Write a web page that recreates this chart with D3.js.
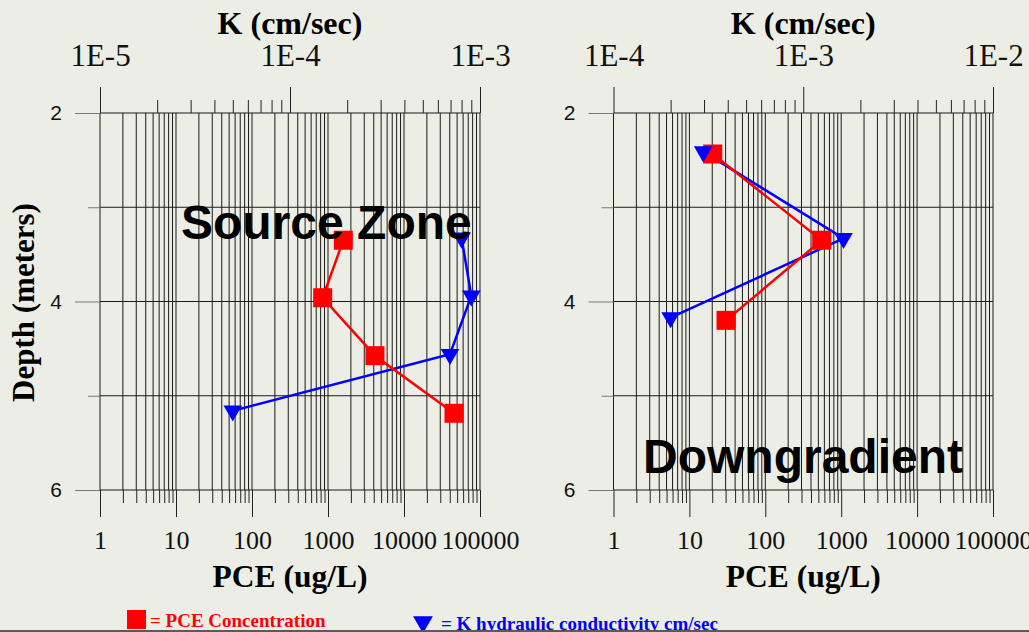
<!DOCTYPE html>
<html>
<head>
<meta charset="utf-8">
<script src="https://cdn.jsdelivr.net/npm/d3@7"></script>
<style>
  html, body { margin: 0; padding: 0; background: #eceee6; }
  svg { display: block; }
</style>
</head>
<body>
<svg id="chart"></svg>
<script>
// Source zone profile
const sourcePceDepth = [3.35, 3.96, 4.575, 5.186];
const sourcePce = [1590, 851, 4150, 45500];
const sourceKDepth = [3.326, 3.94, 4.56, 5.16];
const sourceK = [8.0e-4, 9.0e-4, 6.95e-4, 5.0e-5];

// Downgradient profile
const downPceDepth = [2.435, 3.35, 4.2];
const downPce = [20.3, 553, 30.4];
const downKDepth = [2.41, 3.33, 4.17];
const downK = [2.97e-4, 1.63e-3, 2.0e-4];

// Axis ticks and labels
const pceTicks = [1, 10, 100, 1000, 10000, 100000];
const pceTickLabels = ["1", "10", "100", "1000", "10000", "100000"];
const sourceKTicks = [1e-5, 1e-4, 1e-3];
const sourceKTickLabels = ["1E-5", "1E-4", "1E-3"];
const downKTicks = [1e-4, 1e-3, 1e-2];
const downKTickLabels = ["1E-4", "1E-3", "1E-2"];
const depthTicks = [2, 4, 6];
const depthMinorTicks = [3, 5];

const width = 1029;
const height = 632;
const plotTop = 113;
const plotBottom = 490;
const serif = "'Liberation Serif', 'Times New Roman', serif";
const sans = "'Liberation Sans', Arial, sans-serif";

function minorTicks(decades) {
  const out = [];
  for (let i = 0; i < decades.length - 1; i++) {
    for (let m = 2; m <= 9; m++) out.push(decades[i] * m);
  }
  return out;
}

function drawPanel({ x0, x1, kTicks, kLabels, pceDepth, pce, kDepth, k, showTitle, note }) {
  return (node) => {
    const pceScale = d3.scaleLog().domain([1, 100000]).range([x0, x1]);
    const kScale = d3
      .scaleLog()
      .domain([kTicks[0], kTicks[kTicks.length - 1]])
      .range([x0, x1]);
    const y = d3.scaleLinear().domain([2, 6]).range([plotTop, plotBottom]);

    const g = node.append("g").attr("class", "panel");

    // vertical grid from PCE ticks
    const allPce = pceTicks.concat(minorTicks(pceTicks));
    g.append("g")
      .selectAll("line")
      .data(allPce)
      .join("line")
      .attr("x1", (d) => pceScale(d))
      .attr("x2", (d) => pceScale(d))
      .attr("y1", plotTop)
      .attr("y2", plotBottom)
      .attr("stroke", "#1a1a1a")
      .attr("stroke-width", 1);

    // horizontal grid at each meter
    g.append("g")
      .selectAll("line")
      .data(d3.range(2, 7))
      .join("line")
      .attr("x1", x0)
      .attr("x2", x1)
      .attr("y1", (d) => y(d))
      .attr("y2", (d) => y(d))
      .attr("stroke", "#1a1a1a")
      .attr("stroke-width", 1);

    // bottom PCE axis
    const pceMinor = g
      .append("g")
      .attr("transform", `translate(0, ${plotBottom})`)
      .call(d3.axisBottom(pceScale).tickValues(minorTicks(pceTicks)).tickSize(13).tickFormat(""));
    const pceMajor = g
      .append("g")
      .attr("transform", `translate(0, ${plotBottom})`)
      .call(
        d3
          .axisBottom(pceScale)
          .tickValues(pceTicks)
          .tickSize(27)
          .tickPadding(14)
          .tickFormat((d, i) => pceTickLabels[i])
      );

    // top K axis
    const kMinor = g
      .append("g")
      .attr("transform", `translate(0, ${plotTop})`)
      .call(d3.axisTop(kScale).tickValues(minorTicks(kTicks)).tickSize(13).tickFormat(""));
    const kMajor = g
      .append("g")
      .attr("transform", `translate(0, ${plotTop})`)
      .call(
        d3
          .axisTop(kScale)
          .tickValues(kTicks)
          .tickSize(26)
          .tickPadding(21)
          .tickFormat((d, i) => kLabels[i])
      );

    // depth axis
    const dMajor = g
      .append("g")
      .attr("transform", `translate(${x0}, 0)`)
      .call(d3.axisLeft(y).tickValues(depthTicks).tickSize(25).tickPadding(13).tickFormat(d3.format("d")));
    const dMinor = g
      .append("g")
      .attr("transform", `translate(${x0}, 0)`)
      .call(d3.axisLeft(y).tickValues(depthMinorTicks).tickSize(12).tickFormat(""));

    [pceMinor, pceMajor, kMinor, kMajor, dMajor, dMinor].forEach((a) => {
      a.select(".domain").remove();
      a.selectAll(".tick line").attr("stroke", "#222");
    });
    dMajor.selectAll(".tick line").attr("stroke", "#777");
    dMinor.selectAll(".tick line").attr("stroke", "#777");

    pceMajor.selectAll("text").attr("font-family", serif).attr("font-size", 26).attr("fill", "#111");
    kMajor.selectAll("text").attr("font-family", serif).attr("font-size", 31).attr("fill", "#111");
    dMajor.selectAll("text").attr("font-family", sans).attr("font-size", 21).attr("fill", "#111");

    // axis titles
    const cx = (x0 + x1) / 2;
    g.append("text")
      .attr("x", cx)
      .attr("y", 34)
      .attr("text-anchor", "middle")
      .attr("font-family", serif)
      .attr("font-weight", "bold")
      .attr("font-size", 32)
      .text("K (cm/sec)");

    g.append("text")
      .attr("x", cx)
      .attr("y", 587)
      .attr("text-anchor", "middle")
      .attr("font-family", serif)
      .attr("font-weight", "bold")
      .attr("font-size", 31.5)
      .text("PCE (ug/L)");

    if (showTitle) {
      g.append("text")
        .attr("transform", `translate(34, ${(plotTop + plotBottom) / 2 + 1}) rotate(-90)`)
        .attr("text-anchor", "middle")
        .attr("font-family", serif)
        .attr("font-weight", "bold")
        .attr("font-size", 31)
        .text("Depth (meters)");
    }

    const pceRows = pce.map((v, i) => ({ v, d: pceDepth[i] }));
    const kRows = k.map((v, i) => ({ v, d: kDepth[i] }));

    g.append("path")
      .datum(kRows)
      .attr("fill", "none")
      .attr("stroke", "#0000ff")
      .attr("stroke-width", 2.5)
      .attr("d", d3.line().x((r) => kScale(r.v)).y((r) => y(r.d)));

    g.append("path")
      .datum(pceRows)
      .attr("fill", "none")
      .attr("stroke", "#ff0000")
      .attr("stroke-width", 2.5)
      .attr("d", d3.line().x((r) => pceScale(r.v)).y((r) => y(r.d)));

    const sq = 19;
    g.append("g")
      .selectAll("rect")
      .data(pceRows)
      .join("rect")
      .attr("x", (r) => pceScale(r.v) - sq / 2)
      .attr("y", (r) => y(r.d) - sq / 2)
      .attr("width", sq)
      .attr("height", sq)
      .attr("fill", "#ff0000");

    const tri = d3.symbol(d3.symbolTriangle, 150);
    g.append("g")
      .selectAll("path")
      .data(kRows)
      .join("path")
      .attr("d", tri)
      .attr("transform", (r) => `translate(${kScale(r.v)}, ${y(r.d)}) rotate(180)`)
      .attr("fill", "#0000ff");

    // panel annotation
    g.append("text")
      .attr("x", note.x)
      .attr("y", note.y)
      .attr("font-family", sans)
      .attr("font-weight", "bold")
      .attr("font-size", 48)
      .attr("fill", "#000")
      .text(note.text);
  };
}

function drawLegend() {
  return (node) => {
    const g = node.append("g").attr("class", "legend");

    g.append("rect")
      .attr("x", 127)
      .attr("y", 610)
      .attr("width", 19)
      .attr("height", 19)
      .attr("fill", "#ff0000");

    g.append("text")
      .attr("x", 150)
      .attr("y", 627)
      .attr("font-family", serif)
      .attr("font-weight", "bold")
      .attr("font-size", 19)
      .attr("fill", "#ff0000")
      .text("= PCE Concentration");

    g.append("path")
      .attr("d", d3.symbol(d3.symbolTriangle, 170))
      .attr("transform", "translate(423, 622) rotate(180)")
      .attr("fill", "#0000ff");

    g.append("text")
      .attr("x", 441)
      .attr("y", 630)
      .attr("font-family", serif)
      .attr("font-weight", "bold")
      .attr("font-size", 19)
      .attr("fill", "#0000ff")
      .text("= K hydraulic conductivity cm/sec");

    g.append("rect")
      .attr("x", 0)
      .attr("y", 630)
      .attr("width", width)
      .attr("height", 2)
      .attr("fill", "#5a5a5a");
  };
}

const svg = d3.select("#chart").attr("width", width).attr("height", height);

svg
  .append("rect")
  .attr("width", width)
  .attr("height", height)
  .attr("fill", "#eceee6");

svg.call(
  drawPanel({
    x0: 100,
    x1: 480,
    kTicks: sourceKTicks,
    kLabels: sourceKTickLabels,
    pceDepth: sourcePceDepth,
    pce: sourcePce,
    kDepth: sourceKDepth,
    k: sourceK,
    showTitle: true,
    note: { text: "Source Zone", x: 181, y: 239 },
  })
);

svg.call(
  drawPanel({
    x0: 613.5,
    x1: 993,
    kTicks: downKTicks,
    kLabels: downKTickLabels,
    pceDepth: downPceDepth,
    pce: downPce,
    kDepth: downKDepth,
    k: downK,
    showTitle: false,
    note: { text: "Downgradient", x: 643, y: 473 },
  })
);

svg.call(drawLegend());
</script>
</body>
</html>
